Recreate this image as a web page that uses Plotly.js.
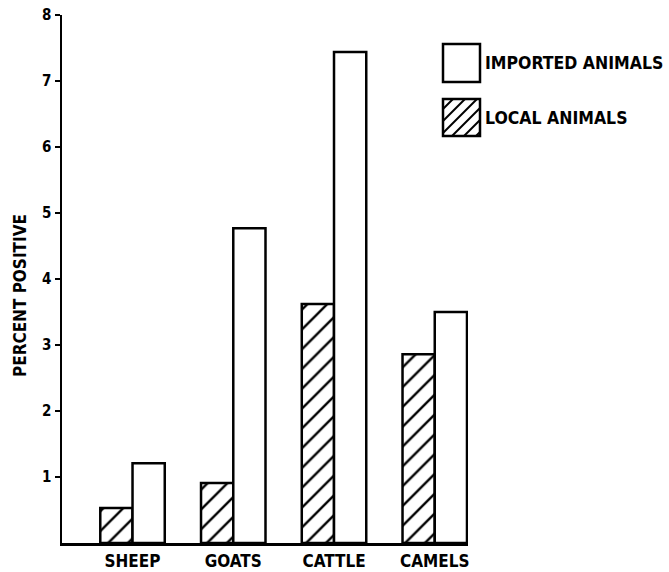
<!DOCTYPE html>
<html>
<head>
<meta charset="utf-8">
<script src="https://cdn.plot.ly/plotly-3.0.1.min.js"></script>
<style>html,body{margin:0;padding:0;background:#fff;}#chart{width:669px;height:572px;}</style>
</head>
<body>
<div id="chart"></div>
<script>
var categories = ['SHEEP', 'GOATS', 'CATTLE', 'CAMELS'];
var localAnimals = [0.53, 0.91, 3.62, 2.86];
var importedAnimals = [1.21, 4.77, 7.44, 3.50];
var yTicks = [1, 2, 3, 4, 5, 6, 7, 8];
var legendNames = ['IMPORTED ANIMALS', 'LOCAL ANIMALS'];
var yTitle = 'PERCENT POSITIVE';

var FONT = 'DejaVu Sans Condensed, Liberation Sans Narrow, DejaVu Sans, sans-serif';
var W = 669, H = 572, L = 62, R = 201, T = 15, B = 29;
var pw = W - L - R, ph = H - T - B;
function px(x) { return (x - L) / pw; }
function py(y) { return (H - B - y) / ph; }

var traces = [
  {
    type: 'bar', name: legendNames[1], x: categories, y: localAnimals,
    marker: {color: '#fff', line: {color: '#000', width: 2.5},
             pattern: {shape: '/', fgcolor: '#000', bgcolor: '#fff', size: 14, solidity: 0.17}},
    showlegend: false, hoverinfo: 'skip'
  },
  {
    type: 'bar', name: legendNames[0], x: categories, y: importedAnimals,
    marker: {color: '#fff', line: {color: '#000', width: 2.5}},
    showlegend: false, hoverinfo: 'skip'
  }
];

// custom legend
var shapes = [];
var bx0 = 443, bx1 = 480;
var boxes = [[44, 82], [99, 136]];
boxes.forEach(function (b) {
  shapes.push({type: 'rect', xref: 'paper', yref: 'paper',
    x0: px(bx0), x1: px(bx1), y0: py(b[1]), y1: py(b[0]),
    line: {color: '#000', width: 2.5}, fillcolor: '#fff'});
});
(function () {
  var x0 = bx0, y0 = boxes[1][0], s = boxes[1][1] - boxes[1][0];
  for (var c = 10; c < 2 * s; c += 12) {
    var a, b;
    if (c <= s) { a = [x0, y0 + c]; b = [x0 + c, y0]; }
    else { a = [x0 + c - s, y0 + s]; b = [x0 + s, y0 + c - s]; }
    shapes.push({type: 'line', xref: 'paper', yref: 'paper',
      x0: px(a[0]), y0: py(a[1]), x1: px(b[0]), y1: py(b[1]),
      line: {color: '#000', width: 2}});
  }
})();

var lfont = {family: FONT, size: 17.5, color: '#000', weight: 'bold'};
var annotations = [
  {xref: 'paper', yref: 'paper', x: px(483), y: py(63), xanchor: 'left', yanchor: 'middle',
   text: legendNames[0], showarrow: false, font: lfont},
  {xref: 'paper', yref: 'paper', x: px(483), y: py(118), xanchor: 'left', yanchor: 'middle',
   text: legendNames[1], showarrow: false, font: lfont},
  {xref: 'paper', yref: 'paper', x: px(20), y: py(296), xanchor: 'center', yanchor: 'middle',
   text: yTitle, textangle: -90, showarrow: false, font: {family: FONT, size: 17, color: '#000', weight: 'bold'}}
];

var layout = {
  width: W, height: H,
  margin: {l: L, r: R, t: T, b: B, pad: 0},
  paper_bgcolor: '#fff', plot_bgcolor: '#fff',
  barmode: 'group', bargap: 0.36, bargroupgap: 0,
  showlegend: false,
  font: {family: FONT, color: '#000'},
  xaxis: {
    type: 'category', range: [-0.7, 3.33], showgrid: false, zeroline: false,
    showline: true, linecolor: '#000', linewidth: 2.5,
    ticks: 'outside', ticklen: 1, tickcolor: 'rgba(0,0,0,0)',
    tickfont: {family: FONT, size: 17, color: '#000', weight: 'bold'}
  },
  yaxis: {
    range: [0, 8], showgrid: false, zeroline: false,
    showline: true, linecolor: '#000', linewidth: 2.5,
    ticks: 'outside', ticklen: 5, tickwidth: 1.5, tickcolor: '#000',
    tickvals: yTicks, ticktext: yTicks.map(String),
    tickfont: {family: FONT, size: 15, color: '#000', weight: 'bold'}
  },
  shapes: shapes,
  annotations: annotations
};

Plotly.newPlot('chart', traces, layout, {staticPlot: true, displayModeBar: false});
</script>
</body>
</html>
